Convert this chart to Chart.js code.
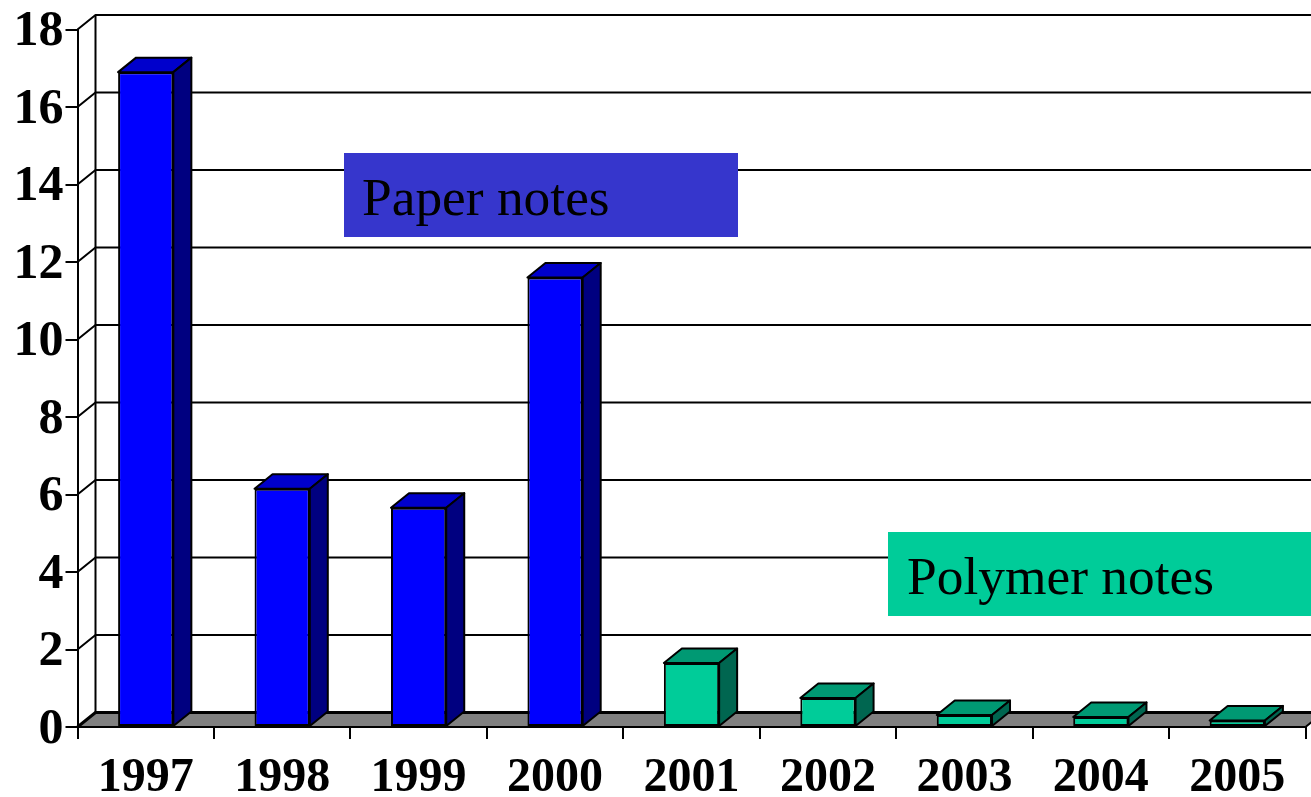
<!DOCTYPE html>
<html lang="en">
<head>
    <meta charset="UTF-8">
    <title>Notes by year</title>
    <style>
        body { margin: 0; background: #fff; }
        #wrap { position: relative; width: 1311px; height: 797px; overflow: hidden; }
        canvas { display: block; }
        .note { position: absolute; height: 84px; font: 53.4px "Liberation Serif", serif; line-height: 88px; color: #000; box-sizing: border-box; white-space: nowrap; }
        #paper { left: 344px; top: 153px; width: 394px; padding-left: 18px; background: #3636cc; }
        #polymer { left: 888px; top: 532px; width: 423px; padding-left: 19px; background: #00cc99; }
    </style>
</head>
<body>
    <div id="wrap">
        <canvas id="chart" width="1311" height="797"></canvas>
        <div class="note" id="paper">Paper notes</div>
        <div class="note" id="polymer">Polymer notes</div>
    </div>

    <script src="https://cdn.jsdelivr.net/npm/chart.js"></script>
    <script>
        const years = ["1997", "1998", "1999", "2000", "2001", "2002", "2003", "2004", "2005"];
        const paperNotes = [16.9, 6.15, 5.66, 11.6, null, null, null, null, null];
        const polymerNotes = [null, null, null, null, 1.65, 0.75, 0.31, 0.26, 0.17];

        // depth of the fake 3D look
        const DX = 18, DY = 14.5;

        const fake3d = {
            id: 'fake3d',
            beforeDatasetsDraw(chart) {
                const c = chart.ctx, y = chart.scales.y, area = chart.chartArea;
                const left = area.left, bottom = area.bottom, w = chart.width;
                c.save();
                c.strokeStyle = '#000';
                c.lineWidth = 2;
                c.lineJoin = 'round';

                // floor
                c.fillStyle = '#808080';
                c.beginPath();
                c.moveTo(left, bottom);
                c.lineTo(left + DX, bottom - DY);
                c.lineTo(w + DX, bottom - DY);
                c.lineTo(area.right, bottom);
                c.closePath();
                c.fill();
                c.beginPath();
                c.moveTo(area.right, bottom);
                c.lineTo(area.right + DX, bottom - DY);
                c.stroke();

                // back wall lines
                y.ticks.forEach(t => {
                    const py = y.getPixelForValue(t.value);
                    c.lineWidth = t.value === 0 ? 3 : 2;
                    c.beginPath();
                    c.moveTo(left, py);
                    c.lineTo(left + DX, py - DY);
                    c.lineTo(w, py - DY);
                    c.stroke();
                });
                c.lineWidth = 2;
                c.beginPath();
                c.moveTo(left + DX, area.top - DY);
                c.lineTo(left + DX, bottom - DY);
                c.stroke();

                // top and side of each bar
                const faces = [['#0000cc', '#000080'], ['#009973', '#006650']];
                chart.data.datasets.forEach((ds, i) => {
                    chart.getDatasetMeta(i).data.forEach((bar, j) => {
                        if (ds.data[j] === null) return;
                        const l = bar.x - bar.width / 2, r = bar.x + bar.width / 2;
                        c.fillStyle = faces[i][0];
                        c.beginPath();
                        c.moveTo(l, bar.y);
                        c.lineTo(l + DX, bar.y - DY);
                        c.lineTo(r + DX, bar.y - DY);
                        c.lineTo(r, bar.y);
                        c.closePath();
                        c.fill();
                        c.stroke();
                        c.fillStyle = faces[i][1];
                        c.beginPath();
                        c.moveTo(r, bar.y);
                        c.lineTo(r + DX, bar.y - DY);
                        c.lineTo(r + DX, bar.base - DY);
                        c.lineTo(r, bar.base);
                        c.closePath();
                        c.fill();
                        c.stroke();
                    });
                });
                c.restore();
            },
            afterDatasetsDraw(chart) {
                // front edge of the floor runs under the bars
                const c = chart.ctx, area = chart.chartArea;
                c.save();
                c.strokeStyle = '#000';
                c.lineWidth = 2;
                c.beginPath();
                c.moveTo(area.left, area.bottom);
                c.lineTo(area.right, area.bottom);
                c.stroke();
                c.restore();
            }
        };

        const serif = '"Liberation Serif", serif';

        new Chart(document.getElementById('chart'), {
            type: 'bar',
            data: {
                labels: years,
                datasets: [
                    { label: 'Paper notes', data: paperNotes, backgroundColor: '#0000ff' },
                    { label: 'Polymer notes', data: polymerNotes, backgroundColor: '#00cc99' }
                ]
            },
            options: {
                responsive: false,
                animation: false,
                layout: { padding: { top: 29.5, right: 5.5, left: 0, bottom: 0 } },
                plugins: { legend: { display: false }, title: { display: false }, tooltip: { enabled: false } },
                datasets: {
                    bar: {
                        grouped: false,
                        categoryPercentage: 1,
                        barPercentage: 0.405,
                        borderColor: '#000',
                        borderWidth: 2,
                        borderSkipped: false
                    }
                },
                scales: {
                    x: {
                        afterFit: s => { s.height = 70; },
                        border: { color: '#000', width: 2 },
                        grid: { drawOnChartArea: false, drawTicks: true, tickLength: 12, color: '#000', lineWidth: 2 },
                        ticks: { color: '#000', font: { family: serif, size: 48, weight: 'bold' }, autoSkip: false, maxRotation: 0, padding: 11 }
                    },
                    y: {
                        min: 0,
                        max: 18,
                        afterFit: s => { s.width = 77.5; },
                        border: { color: '#000', width: 2 },
                        grid: { drawOnChartArea: false, drawTicks: true, tickLength: 12, color: '#000', lineWidth: 2 },
                        ticks: { color: '#000', font: { family: serif, size: 50, weight: 'bold', lineHeight: 1 }, stepSize: 2, padding: 2, labelOffset: 3 }
                    }
                }
            },
            plugins: [fake3d]
        });
    </script>
</body>
</html>
